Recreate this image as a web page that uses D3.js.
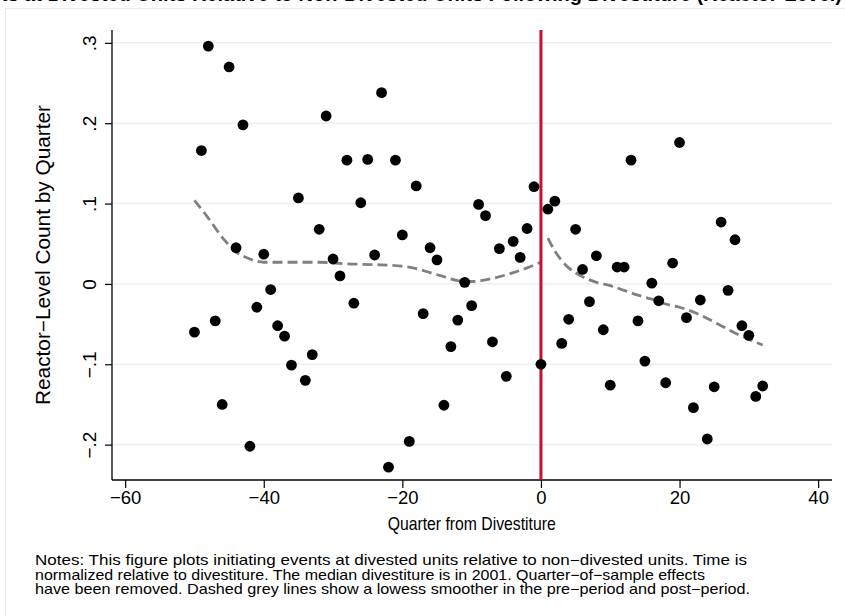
<!DOCTYPE html>
<html>
<head>
<meta charset="utf-8">
<script src="https://cdn.jsdelivr.net/npm/d3@7/dist/d3.min.js"></script>
<style>
  html, body { margin: 0; padding: 0; background: #ffffff; }
  svg { display: block; font-family: "Liberation Sans", Arial, Helvetica, sans-serif; }
</style>
</head>
<body>
<svg id="chart" width="845" height="616"></svg>
<script>
// Quarter relative to divestiture and the reactor-level count residual
const quarters = [
  -50, -49, -48, -47, -46, -45, -44, -43, -42, -41, -40, -39, -38, -37, -36, -35, -34,
  -33, -32, -31, -30, -29, -28, -27, -26, -25, -24, -23, -22, -21, -20, -19, -18, -17,
  -16, -15, -14, -13, -12, -11, -10, -9, -8, -7, -6, -5, -4, -3, -2, -1, 0,
  1, 2, 3, 4, 5, 6, 7, 8, 9, 10, 11, 12, 13, 14, 15, 16, 17, 18, 19, 20,
  21, 22, 23, 24, 25, 26, 27, 28, 29, 30, 31, 32
];
const counts = [
  -0.060, 0.166, 0.296, -0.046, -0.150, 0.270, 0.045, 0.198, -0.202, -0.029, 0.037, -0.007, -0.052, -0.065, -0.101, 0.107, -0.120,
  -0.088, 0.068, 0.209, 0.031, 0.010, 0.154, -0.024, 0.101, 0.155, 0.036, 0.238, -0.228, 0.154, 0.061, -0.196, 0.122, -0.037,
  0.045, 0.030, -0.151, -0.078, -0.045, 0.002, -0.027, 0.099, 0.085, -0.072, 0.044, -0.115, 0.053, 0.033, 0.069, 0.121, -0.100,
  0.093, 0.103, -0.074, -0.044, 0.068, 0.018, -0.022, 0.035, -0.057, -0.126, 0.021, 0.021, 0.154, -0.046, -0.096, 0.001, -0.021, -0.123, 0.026, 0.176,
  -0.042, -0.154, -0.020, -0.193, -0.128, 0.077, -0.008, 0.055, -0.052, -0.064, -0.140, -0.127
];

// Lowess smoother, pre-period and post-period
const preQuarters  = [-50, -48, -46, -44, -42, -40, -36, -32, -28, -24, -20, -18, -16, -14, -12, -10, -8, -6, -4, -2, 0];
const preSmooth    = [0.104, 0.082, 0.058, 0.040, 0.031, 0.027, 0.027, 0.027, 0.025, 0.024, 0.022, 0.019, 0.014, 0.009, 0.004, 0.003, 0.005, 0.009, 0.014, 0.020, 0.027];
const postQuarters = [1, 2, 3, 4, 5, 6, 8, 10, 12, 14, 16, 18, 20, 22, 24, 26, 28, 30, 32];
const postSmooth   = [0.057, 0.041, 0.029, 0.020, 0.014, 0.009, 0.002, -0.002, -0.008, -0.014, -0.019, -0.025, -0.029, -0.035, -0.043, -0.052, -0.061, -0.069, -0.076];

const xTicks = [-60, -40, -20, 0, 20, 40];
const yTicks = [-0.2, -0.1, 0, 0.1, 0.2, 0.3];
const divestQuarter = 0;

const titleText = "Figure 6: Initiating Events at Divested Units Relative to Non-Divested Units Following Divestiture (Reactor-Level)";
const xTitle = "Quarter from Divestiture";
const yTitle = "Reactor\u2212Level Count by Quarter";
const notes = [
  "Notes: This figure plots initiating events at divested units relative to non\u2212divested units. Time is",
  "normalized relative to divestiture. The median divestiture is in 2001. Quarter\u2212of\u2212sample effects",
  "have been removed. Dashed grey lines show a lowess smoother in the pre\u2212period and post\u2212period."
];

const svg = d3.select("#chart");

// graph region outline
svg.append("rect")
  .attr("x", 5.5).attr("y", 8.5).attr("width", 845).attr("height", 620)
  .attr("fill", "none").attr("stroke", "#e4ecee").attr("stroke-width", 1);

// title, running past the top edge of the page
svg.append("text")
  .attr("x", 842).attr("y", 0.5)
  .attr("text-anchor", "end")
  .attr("font-weight", "bold").attr("font-size", 20)
  .attr("fill", "#000")
  .text(titleText);

const x = d3.scaleLinear().domain([-61.9, 42]).range([112, 832]);
const y = d3.scaleLinear().domain([-0.244, 0.316]).range([480, 30]);

const fmtX = v => (v < 0 ? "\u2212" : "") + Math.abs(v);
const fmtY = v => {
  if (Math.abs(v) < 1e-9) return "0";
  const s = Math.abs(v).toFixed(1).replace(/^0/, "");
  return (v < 0 ? "\u2212" : "") + s;
};

// horizontal gridlines
svg.append("g").selectAll("line").data(yTicks).join("line")
  .attr("x1", 113).attr("x2", 832)
  .attr("y1", d => y(d)).attr("y2", d => y(d))
  .attr("stroke", "#eaf1f3").attr("stroke-width", 1.5);

// y axis
const yAxis = svg.append("g").attr("transform", "translate(112,0)")
  .call(d3.axisLeft(y).tickValues(yTicks).tickFormat(fmtY).tickSize(7).tickPadding(0));
yAxis.select(".domain").attr("d", `M0,${y.range()[1]}V${y.range()[0]}`).attr("stroke", "#000").attr("stroke-width", 1.3);
yAxis.selectAll(".tick line").attr("stroke", "#000").attr("stroke-width", 1.2);
yAxis.selectAll(".tick text")
  .attr("font-size", 19).attr("font-family", "Liberation Sans, Arial, sans-serif")
  .attr("fill", "#000")
  .attr("x", null).attr("dy", null)
  .attr("text-anchor", "middle")
  .attr("transform", "translate(-16,0) rotate(-90)");

// x axis
const xAxis = svg.append("g").attr("transform", "translate(0,480)")
  .call(d3.axisBottom(x).tickValues(xTicks).tickFormat(fmtX).tickSize(8).tickPadding(3));
xAxis.select(".domain").attr("d", `M${x.range()[0]},0H${x.range()[1]}`).attr("stroke", "#000").attr("stroke-width", 1.3);
xAxis.selectAll(".tick line").attr("stroke", "#000").attr("stroke-width", 1.2);
xAxis.selectAll(".tick text")
  .attr("font-size", 18.5).attr("font-family", "Liberation Sans, Arial, sans-serif")
  .attr("fill", "#000");

// axis titles
svg.append("text")
  .attr("x", x(-10)).attr("y", 529.5)
  .attr("text-anchor", "middle").attr("font-size", 18.5).attr("fill", "#000")
  .attr("textLength", 168).attr("lengthAdjust", "spacingAndGlyphs")
  .text(xTitle);
svg.append("text")
  .attr("transform", `translate(50,${(y.range()[0] + y.range()[1]) / 2}) rotate(-90)`)
  .attr("text-anchor", "middle").attr("font-size", 19.5).attr("fill", "#000")
  .attr("textLength", 300).attr("lengthAdjust", "spacingAndGlyphs")
  .text(yTitle);

// lowess smoothers
const line = d3.line().x(d => x(d[0])).y(d => y(d[1])).curve(d3.curveMonotoneX);
[[preQuarters, preSmooth], [postQuarters, postSmooth]].forEach(([qs, vs]) => {
  svg.append("path")
    .datum(qs.map((q, i) => [q, vs[i]]))
    .attr("d", line)
    .attr("fill", "none").attr("stroke", "#808080")
    .attr("stroke-width", 2.8).attr("stroke-dasharray", "10,5");
});

// divestiture marker
svg.append("line")
  .attr("x1", x(divestQuarter)).attr("x2", x(divestQuarter))
  .attr("y1", y.range()[1]).attr("y2", y.range()[0])
  .attr("stroke", "#c8102e").attr("stroke-width", 3);

// scatter points
svg.append("g").selectAll("circle").data(quarters.map((q, i) => [q, counts[i]])).join("circle")
  .attr("cx", d => x(d[0])).attr("cy", d => y(d[1]))
  .attr("r", 5.4).attr("fill", "#000");

// notes
const noteWidths = [712, 670, 715];
notes.forEach((t, i) => {
  svg.append("text")
    .attr("x", 35).attr("y", 565 + i * 14.5)
    .attr("font-size", 14.5).attr("fill", "#000")
    .attr("textLength", noteWidths[i]).attr("lengthAdjust", "spacingAndGlyphs")
    .text(t);
});
</script>
</body>
</html>
